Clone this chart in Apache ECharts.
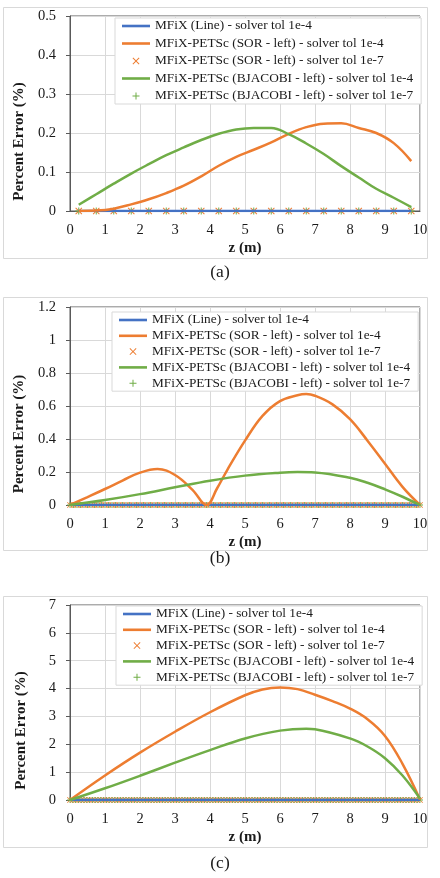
<!DOCTYPE html>
<html>
<head>
<meta charset="utf-8">
<script src="https://cdn.jsdelivr.net/npm/echarts@6/dist/echarts.min.js"></script>
<style>
  html, body { margin: 0; padding: 0; background: #fff; }
  #grafico { width: 440px; height: 878px; }
</style>
</head>
<body>
<div id="grafico"></div>
<script>
const nombres = [
  'MFiX (Line) - solver tol 1e-4',
  'MFiX-PETSc (SOR - left) - solver tol 1e-4',
  'MFiX-PETSc (SOR - left) - solver tol 1e-7',
  'MFiX-PETSc (BJACOBI - left) - solver tol 1e-4',
  'MFiX-PETSc (BJACOBI - left) - solver tol 1e-7'
];
const rotulos = ['(a)', '(b)', '(c)'];

// (a) - puntos cada 0.5 m
const zA = [0.25, 0.75, 1.25, 1.75, 2.25, 2.75, 3.25, 3.75, 4.25, 4.75, 5.25, 5.75, 6.25, 6.75, 7.25, 7.75, 8.25, 8.75, 9.25, 9.75];
const sorA = [0, 0.001, 0.006, 0.017, 0.03, 0.046, 0.065, 0.089, 0.116, 0.139, 0.157, 0.176, 0.198, 0.215, 0.224, 0.225, 0.213, 0.2, 0.174, 0.128];
const bjacobiA = [0.016, 0.043, 0.07, 0.096, 0.12, 0.143, 0.163, 0.182, 0.198, 0.209, 0.213, 0.213, 0.197, 0.173, 0.146, 0.115, 0.086, 0.057, 0.034, 0.01];

// (b)
const zSorB = [0, 0.5, 1, 1.5, 2, 2.5, 3, 3.5, 3.9, 3.9, 4.2, 4.5, 5, 5.5, 6, 6.5, 6.75, 7, 7.5, 8, 8.5, 9, 9.5, 10];
const sorB = [0, 0.048, 0.097, 0.148, 0.196, 0.218, 0.182, 0.092, 0, 0, 0.1, 0.215, 0.39, 0.54, 0.63, 0.665, 0.672, 0.662, 0.61, 0.52, 0.39, 0.25, 0.11, 0];
const zBjB = [0, 1, 2, 3, 4, 5, 6, 6.5, 7, 8, 8.5, 9, 9.5, 10];
const bjacobiB = [0, 0.03, 0.066, 0.107, 0.147, 0.178, 0.196, 0.2, 0.197, 0.165, 0.135, 0.095, 0.05, 0];
const zMarcaB = [
  0, 0.1, 0.2, 0.3, 0.4, 0.5, 0.6, 0.7, 0.8, 0.9,
  1, 1.1, 1.2, 1.3, 1.4, 1.5, 1.6, 1.7, 1.8, 1.9,
  2, 2.1, 2.2, 2.3, 2.4, 2.5, 2.6, 2.7, 2.8, 2.9,
  3, 3.1, 3.2, 3.3, 3.4, 3.5, 3.6, 3.7, 3.8, 3.9,
  4, 4.1, 4.2, 4.3, 4.4, 4.5, 4.6, 4.7, 4.8, 4.9,
  5, 5.1, 5.2, 5.3, 5.4, 5.5, 5.6, 5.7, 5.8, 5.9,
  6, 6.1, 6.2, 6.3, 6.4, 6.5, 6.6, 6.7, 6.8, 6.9,
  7, 7.1, 7.2, 7.3, 7.4, 7.5, 7.6, 7.7, 7.8, 7.9,
  8, 8.1, 8.2, 8.3, 8.4, 8.5, 8.6, 8.7, 8.8, 8.9,
  9, 9.1, 9.2, 9.3, 9.4, 9.5, 9.6, 9.7, 9.8, 9.9,
  10
];

// (c)
const zSorC = [0, 1, 2, 3, 4, 5, 5.5, 6, 6.5, 7, 7.5, 8, 8.5, 9, 9.5, 10];
const sorC = [0, 0.88, 1.7, 2.45, 3.15, 3.76, 3.97, 4.04, 3.98, 3.78, 3.55, 3.28, 2.9, 2.3, 1.3, 0.02];
const zBjC = [0, 1, 2, 3, 4, 5, 6, 6.75, 7, 8, 8.5, 9, 9.5, 10];
const bjacobiC = [0, 0.42, 0.87, 1.34, 1.79, 2.21, 2.49, 2.56, 2.54, 2.21, 1.92, 1.5, 0.88, 0.05];
const zMarcaC = [
  0, 0.08, 0.16, 0.24, 0.32, 0.4, 0.48, 0.56, 0.64, 0.72, 0.8, 0.88, 0.96, 1.04, 1.12, 1.2, 1.28, 1.36, 1.44, 1.52, 1.6, 1.68, 1.76, 1.84, 1.92,
  2, 2.08, 2.16, 2.24, 2.32, 2.4, 2.48, 2.56, 2.64, 2.72, 2.8, 2.88, 2.96, 3.04, 3.12, 3.2, 3.28, 3.36, 3.44, 3.52, 3.6, 3.68, 3.76, 3.84, 3.92,
  4, 4.08, 4.16, 4.24, 4.32, 4.4, 4.48, 4.56, 4.64, 4.72, 4.8, 4.88, 4.96, 5.04, 5.12, 5.2, 5.28, 5.36, 5.44, 5.52, 5.6, 5.68, 5.76, 5.84, 5.92,
  6, 6.08, 6.16, 6.24, 6.32, 6.4, 6.48, 6.56, 6.64, 6.72, 6.8, 6.88, 6.96, 7.04, 7.12, 7.2, 7.28, 7.36, 7.44, 7.52, 7.6, 7.68, 7.76, 7.84, 7.92,
  8, 8.08, 8.16, 8.24, 8.32, 8.4, 8.48, 8.56, 8.64, 8.72, 8.8, 8.88, 8.96, 9.04, 9.12, 9.2, 9.28, 9.36, 9.44, 9.52, 9.6, 9.68, 9.76, 9.84, 9.92,
  10
];

// limites de los ejes y
const yMax = [0.5, 1.2, 7];
const yPaso = [0.1, 0.2, 1];

const azul = '#4472C4';
const naranja = '#ED7D31';
const verde = '#70AD47';
const fuente = '"Liberation Serif", serif';

// simbolos con margen (los M extra fijan la caja)
const cruzX = 'path://M0,0M14,14M3.5,4.2L4.2,3.5L7,6.3L9.8,3.5L10.5,4.2L7.7,7L10.5,9.8L9.8,10.5L7,7.7L4.2,10.5L3.5,9.8L6.3,7Z';
const cruzMas = 'path://M0,0M14,14M6.5,3.5H7.5V6.5H10.5V7.5H7.5V10.5H6.5V7.5H3.5V6.5H6.5Z';
const linea = 'path://M0,0M28,14M0,5.7H28V8.3H0Z';
const iconos = [linea, linea, cruzX, linea, cruzMas];

const pares = (zs, vals) => zs.map((z, i) => [z, vals[i]]);
const ceros = zs => zs.map(z => [z, 0]);

const paneles = [
  { top: 16, height: 195, marcas: zA, tam: 14, sor: pares(zA, sorA), bj: pares(zA, bjacobiA),
    leyenda: { top: 18, left: 115, gap: 3.5 }, caja: [7, 258], rotuloY: 272 },
  { top: 307, height: 198, marcas: zMarcaB, tam: 12, sor: pares(zSorB, sorB), bj: pares(zBjB, bjacobiB),
    leyenda: { top: 312, left: 112, gap: 1.8 }, caja: [297, 550], rotuloY: 558 },
  { top: 605, height: 195, marcas: zMarcaC, tam: 12, sor: pares(zSorC, sorC), bj: pares(zBjC, bjacobiC),
    leyenda: { top: 606, left: 116, gap: 1.8 }, caja: [596, 847], rotuloY: 863 }
];

const grid = [];
const xAxis = [];
const yAxis = [];
const legend = [];
const series = [];
const graphic = [];

paneles.forEach((p, i) => {
  grid.push({
    left: 70, width: 350, top: p.top, height: p.height,
    show: true, borderColor: '#595959', borderWidth: 1, backgroundColor: '#fff'
  });
  xAxis.push({
    type: 'value', gridIndex: i, min: 0, max: 10, interval: 1,
    name: 'z (m)', nameLocation: 'middle', nameGap: 30,
    nameTextStyle: { fontFamily: fuente, fontSize: 15, fontWeight: 'bold', color: '#1a1a1a' },
    axisLine: { show: true, onZero: false, lineStyle: { color: '#595959', width: 1 } },
    axisTick: { show: false },
    axisLabel: { margin: 12, fontFamily: fuente, fontSize: 14.5, color: '#1a1a1a' },
    splitLine: { show: true, lineStyle: { color: '#d9d9d9', width: 1 } }
  });
  yAxis.push({
    type: 'value', gridIndex: i, min: 0, max: yMax[i], interval: yPaso[i],
    name: 'Percent Error (%)', nameLocation: 'middle', nameGap: 41,
    nameTextStyle: { fontFamily: fuente, fontSize: 15, fontWeight: 'bold', color: '#1a1a1a', padding: [0, 56, 0, 0] },
    axisLine: { show: true, lineStyle: { color: '#595959', width: 1 } },
    axisTick: { show: true, inside: false, length: 4, lineStyle: { color: '#595959' } },
    axisLabel: { margin: 14, fontFamily: fuente, fontSize: 14.5, color: '#1a1a1a' },
    splitLine: { show: true, lineStyle: { color: '#d9d9d9', width: 1 } }
  });
  legend.push({
    orient: 'vertical', left: p.leyenda.left, top: p.leyenda.top,
    itemWidth: 28, itemHeight: 14, itemGap: p.leyenda.gap,
    padding: [1, 8, 1, 7],
    backgroundColor: '#fff', borderColor: '#d9d9d9', borderWidth: 1,
    textStyle: { fontFamily: fuente, fontSize: 13.3, color: '#1a1a1a' },
    data: nombres.map((n, k) => ({ name: n, icon: iconos[k] }))
  });

  series.push(
    { name: nombres[0], type: 'line', xAxisIndex: i, yAxisIndex: i, data: ceros(p.marcas),
      symbol: 'none', lineStyle: { color: azul, width: 2.5 }, itemStyle: { color: azul } },
    { name: nombres[1], type: 'line', xAxisIndex: i, yAxisIndex: i, data: p.sor, smooth: 0.4,
      symbol: 'none', lineStyle: { color: naranja, width: 2.5 }, itemStyle: { color: naranja } },
    { name: nombres[2], type: 'scatter', xAxisIndex: i, yAxisIndex: i, data: ceros(p.marcas),
      symbol: cruzX, symbolSize: p.tam, symbolKeepAspect: true, itemStyle: { color: naranja, opacity: 1 } },
    { name: nombres[3], type: 'line', xAxisIndex: i, yAxisIndex: i, data: p.bj, smooth: 0.4,
      symbol: 'none', lineStyle: { color: verde, width: 2.5 }, itemStyle: { color: verde } },
    { name: nombres[4], type: 'scatter', xAxisIndex: i, yAxisIndex: i, data: ceros(p.marcas),
      symbol: cruzMas, symbolSize: p.tam, symbolKeepAspect: true, itemStyle: { color: verde, opacity: 1 } }
  );

  // marco del panel y su rotulo
  graphic.push(
    { type: 'rect', z: -10, shape: { x: 3.5, y: p.caja[0] + 0.5, width: 424, height: p.caja[1] - p.caja[0] },
      style: { fill: 'none', stroke: '#d9d9d9', lineWidth: 1 } },
    { type: 'text', x: 220, y: p.rotuloY,
      style: { text: rotulos[i], font: '17.5px "Liberation Serif"', fill: '#1a1a1a', textAlign: 'center', textVerticalAlign: 'middle' } }
  );
});

const chart = echarts.init(document.getElementById('grafico'));
chart.setOption({
  animation: false,
  backgroundColor: '#fff',
  grid, xAxis, yAxis, legend, series, graphic
});
</script>
</body>
</html>
